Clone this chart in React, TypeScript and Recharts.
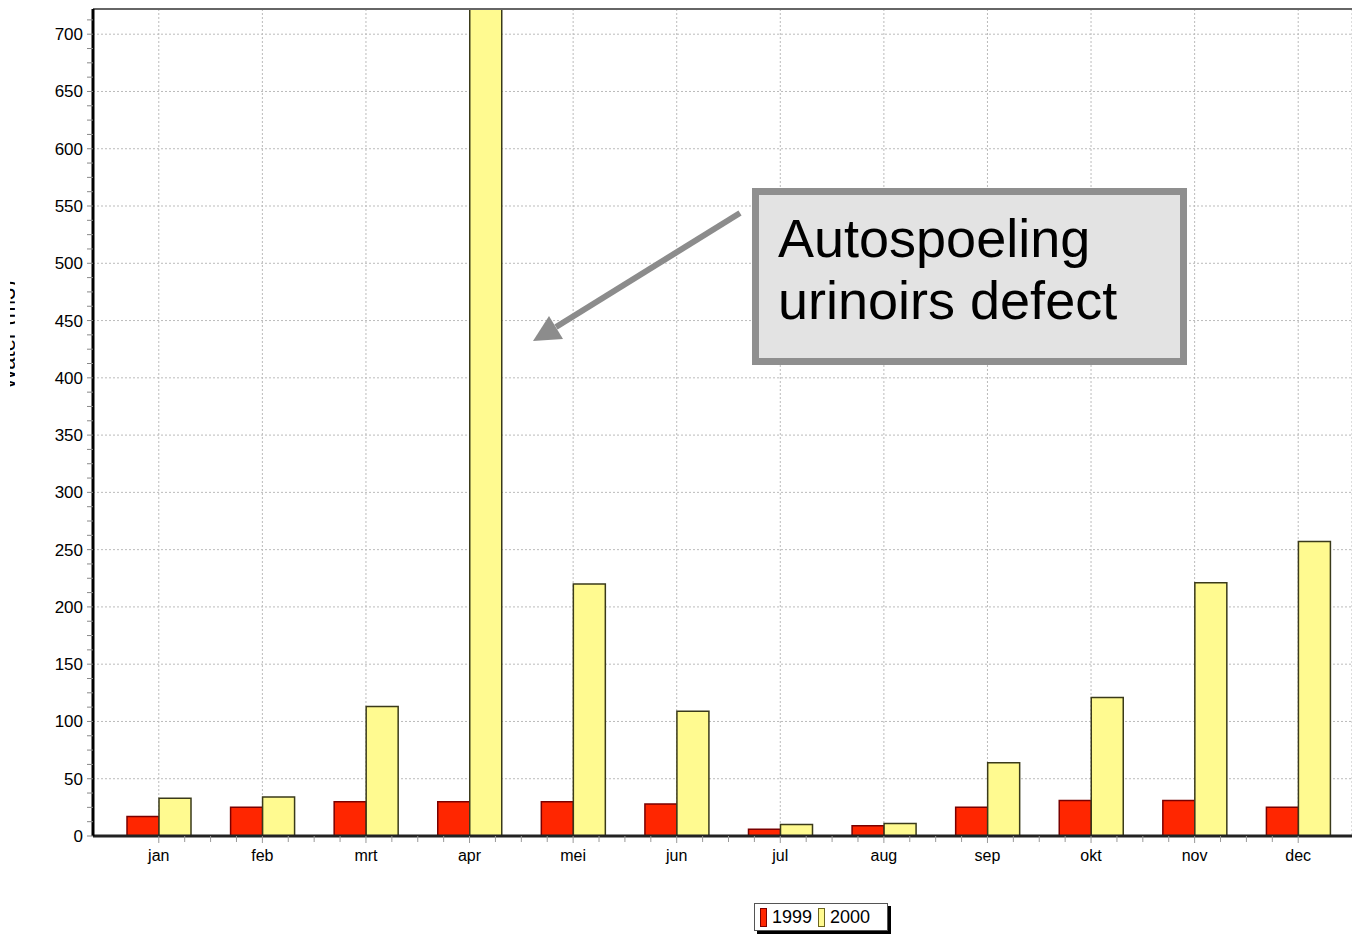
import React from "react";
import { BarChart, Bar, XAxis, YAxis, CartesianGrid, ReferenceLine } from "recharts";

const months = ["jan", "feb", "mrt", "apr", "mei", "jun", "jul", "aug", "sep", "okt", "nov", "dec"];
const water1999 = [17, 25, 30, 30, 30, 28, 6, 9, 25, 31, 31, 25];
const water2000 = [33, 34, 113, 760, 220, 109, 10, 11, 64, 121, 221, 257];
const yMajorTicks = [0, 50, 100, 150, 200, 250, 300, 350, 400, 450, 500, 550, 600, 650, 700];
const yMinorTicks = Array.from({ length: 58 }, (_, i) => i * 12.5);
const yLabel = "Water (m3)";
const note = ["Autospoeling", "urinoirs defect"];

const data = months.map((m, i) => ({ month: m, y1999: water1999[i], y2000: water2000[i] }));

const W = 1352;
const H = 935;
const AXIS_X = 93;
const PAD_LEFT = 14;
const PAD_RIGHT = 2;
const BAND = (W - AXIS_X - PAD_LEFT - PAD_RIGHT) / months.length;
const FONT = "'Liberation Sans', Arial, sans-serif";

function YTick({ y, payload }: any) {
  const major = payload.value % 50 === 0;
  return (
    <g>
      <line x1={AXIS_X - 6} x2={AXIS_X} y1={y} y2={y} stroke="#888" strokeWidth={1} />
      {major && (
        <text x={AXIS_X - 10} y={y} dy={6} textAnchor="end" fontSize={17} fontFamily={FONT} fill="#000">
          {payload.value}
        </text>
      )}
    </g>
  );
}

function XTick({ x, y, payload, index }: any) {
  const minors = index < months.length - 1 ? [1, 2, 3].map((k) => x + (BAND * k) / 4) : [];
  return (
    <g>
      <line x1={x} x2={x} y1={y - 8} y2={y - 1} stroke="#999" />
      {minors.map((mx) => (
        <line key={mx} x1={mx} x2={mx} y1={y - 8} y2={y - 2} stroke="#999" />
      ))}
      <text x={x} y={y + 17} textAnchor="middle" fontSize={16} fontFamily={FONT} fill="#000">
        {payload.value}
      </text>
    </g>
  );
}

function Note() {
  return (
    <svg width={W} height={H} style={{ position: "absolute", left: 0, top: 0, pointerEvents: "none" }}>
      <defs>
        <clipPath id="ylab">
          <rect x={10} y={0} width={5} height={H} />
        </clipPath>
      </defs>
      <g clipPath="url(#ylab)">
        <text
          transform="translate(15,335) rotate(-90)"
          textAnchor="middle"
          fontSize={22}
          fontFamily={FONT}
          fill="#000"
        >
          {yLabel}
        </text>
      </g>
      <line x1={740} y1={213} x2={556} y2={327} stroke="#8c8c8c" strokeWidth={6} />
      <polygon points="533,341 549,316 563,339" fill="#8c8c8c" />
      <rect x={755.5} y={191.5} width={428} height={170} fill="#e3e3e3" stroke="#8f8f8f" strokeWidth={7} />
      <text x={778} y={257} fontSize={54} fontFamily={FONT} fill="#000">
        {note[0]}
      </text>
      <text x={778} y={319} fontSize={54} fontFamily={FONT} fill="#000">
        {note[1]}
      </text>
    </svg>
  );
}

function LegendBox() {
  const item = (color: string, border: string, label: string) => (
    <span style={{ display: "inline-flex", alignItems: "center", marginRight: 6 }}>
      <span style={{ display: "inline-block", width: 5, height: 17, background: color, border: `1px solid ${border}`, marginRight: 5 }} />
      {label}
    </span>
  );
  return (
    <div
      style={{
        position: "absolute",
        left: 754,
        top: 903,
        width: 134,
        height: 28,
        border: "1px solid #555",
        background: "#fff",
        boxShadow: "3px 3px 0 #000",
        fontFamily: FONT,
        fontSize: 18,
        display: "flex",
        alignItems: "center",
        paddingLeft: 5,
        boxSizing: "border-box",
      }}
    >
      {item("#ff2600", "#7a0000", "1999")}
      {item("#fffa90", "#6b6520", "2000")}
    </div>
  );
}

export default function App() {
  return (
    <div style={{ position: "fixed", left: 0, top: 0, width: W, height: H, background: "#fff" }}>
      <BarChart
        width={W}
        height={H}
        data={data}
        margin={{ top: 9, right: 0, bottom: 69, left: 0 }}
        barGap={0}
        barSize={32}
      >
        <CartesianGrid stroke="#bbb" strokeDasharray="2 2" horizontalValues={yMajorTicks} />
        <XAxis
          dataKey="month"
          padding={{ left: PAD_LEFT, right: PAD_RIGHT }}
          axisLine={{ stroke: "#222", strokeWidth: 3 }}
          tickLine={false}
          tick={<XTick />}
          interval={0}
          height={30}
        />
        <YAxis
          width={AXIS_X}
          domain={[0, 722]}
          allowDataOverflow
          ticks={yMinorTicks}
          interval={0}
          axisLine={{ stroke: "#000", strokeWidth: 3 }}
          tickLine={false}
          tick={<YTick />}
        />
        <ReferenceLine y={722} stroke="#666" strokeWidth={2} ifOverflow="extendDomain" />
        <Bar dataKey="y1999" fill="#ff2600" stroke="#7a0000" strokeWidth={1.5} isAnimationActive={false} />
        <Bar dataKey="y2000" fill="#fffa90" stroke="#3a3a1a" strokeWidth={1.5} isAnimationActive={false} />
      </BarChart>
      <Note />
      <LegendBox />
    </div>
  );
}
